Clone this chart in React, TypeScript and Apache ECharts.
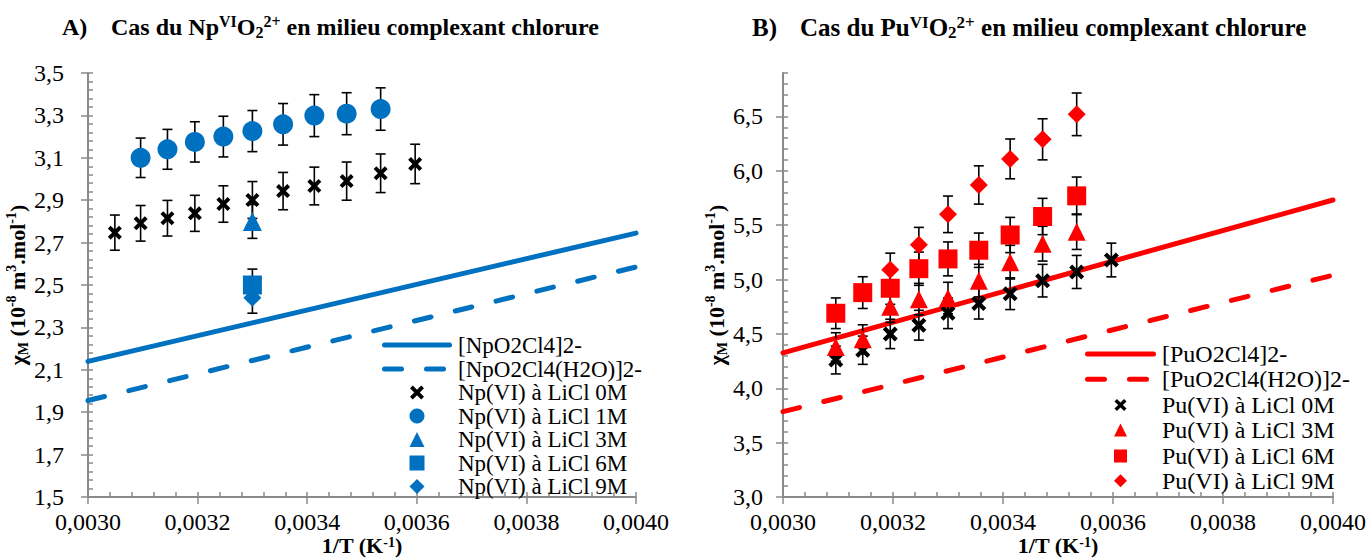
import React, { useEffect, useRef } from 'react';
import * as echarts from 'echarts';

// ---------- tick labels ----------
const xTickValues = [0.003, 0.0032, 0.0034, 0.0036, 0.0038, 0.004];
const npYTickValues = [1.5, 1.7, 1.9, 2.1, 2.3, 2.5, 2.7, 2.9, 3.1, 3.3, 3.5];
const puYTickValues = [3.0, 3.5, 4.0, 4.5, 5.0, 5.5, 6.0, 6.5];

// ---------- A) Np(VI) data ----------
const npLineX = [0.003, 0.004];
const npSolidY = [2.14, 2.745];
const npDashedY = [1.955, 2.585];

const npX0M = [0.003049, 0.003096, 0.003145, 0.003195, 0.003247, 0.0033, 0.003356, 0.003413, 0.003472, 0.003534, 0.003597];
const npY0M = [2.747, 2.791, 2.815, 2.838, 2.882, 2.901, 2.943, 2.967, 2.99, 3.027, 3.071];
const npE0M = [0.083, 0.084, 0.084, 0.085, 0.086, 0.087, 0.088, 0.089, 0.09, 0.091, 0.093];

const npX1M = [0.003096, 0.003145, 0.003195, 0.003247, 0.0033, 0.003356, 0.003413, 0.003472, 0.003534];
const npY1M = [3.1, 3.14, 3.175, 3.2, 3.226, 3.258, 3.299, 3.308, 3.33];
const npE1M = [0.093, 0.094, 0.095, 0.096, 0.097, 0.098, 0.099, 0.099, 0.1];

const npX3M = [0.0033];
const npY3M = [2.8];
const npE3M = [0.08];

const npX6M = [0.0033];
const npY6M = [2.5];
const npE6M = [0.075];

const npX9M = [0.0033];
const npY9M = [2.44];
const npE9M = [0.073];

// ---------- B) Pu(VI) data ----------
const puLineX = [0.003, 0.004];
const puSolidY = [4.326, 5.732];
const puDashedY = [3.785, 5.04];

const puX0M = [0.003096, 0.003145, 0.003195, 0.003247, 0.0033, 0.003356, 0.003413, 0.003472, 0.003534, 0.003597];
const puY0M = [4.26, 4.35, 4.5, 4.58, 4.69, 4.78, 4.87, 4.99, 5.07, 5.18];
const puE0M = [0.128, 0.13, 0.135, 0.137, 0.141, 0.143, 0.146, 0.15, 0.152, 0.155];

const puX3M = [0.003096, 0.003145, 0.003195, 0.003247, 0.0033, 0.003356, 0.003413, 0.003472, 0.003534];
const puY3M = [4.38, 4.45, 4.75, 4.82, 4.83, 4.99, 5.16, 5.33, 5.44];
const puE3M = [0.131, 0.134, 0.143, 0.145, 0.145, 0.15, 0.155, 0.16, 0.163];

const puX6M = [0.003096, 0.003145, 0.003195, 0.003247, 0.0033, 0.003356, 0.003413, 0.003472, 0.003534];
const puY6M = [4.69, 4.88, 4.92, 5.1, 5.19, 5.27, 5.41, 5.58, 5.77];
const puE6M = [0.141, 0.146, 0.148, 0.153, 0.156, 0.158, 0.162, 0.167, 0.173];

const puX9M = [0.003195, 0.003247, 0.0033, 0.003356, 0.003413, 0.003472, 0.003534];
const puY9M = [5.09, 5.32, 5.6, 5.87, 6.11, 6.29, 6.52];
const puE9M = [0.153, 0.16, 0.168, 0.176, 0.183, 0.189, 0.196];

// ---------- legend labels ----------
const npNames = ['[NpO2Cl4]2-', '[NpO2Cl4(H2O)]2-', 'Np(VI) à LiCl 0M', 'Np(VI) à LiCl 1M', 'Np(VI) à LiCl 3M', 'Np(VI) à LiCl 6M', 'Np(VI) à LiCl 9M'];
const puNames = ['[PuO2Cl4]2-', '[PuO2Cl4(H2O)]2-', 'Pu(VI) à LiCl 0M', 'Pu(VI) à LiCl 3M', 'Pu(VI) à LiCl 6M', 'Pu(VI) à LiCl 9M'];

// ---------- styles ----------
const SERIF = '"Liberation Serif", "Times New Roman", serif';
const AXIS_GRAY = '#8a8a8a';
const BLUE = '#0070C0';
const RED = '#FF0000';
const CROSS = 'path://M0,2L2,0L5,3L8,0L10,2L7,5L10,8L8,10L5,7L2,10L0,8L3,5Z';
const CROSS_PTS = [[0, 2], [2, 0], [5, 3], [8, 0], [10, 2], [7, 5], [10, 8], [8, 10], [5, 7], [2, 10], [0, 8], [3, 5]];
const DASH = [17, 25];
const FONT = 24;

const zip = (xs: number[], ys: number[]) => xs.map((x, i) => [x, ys[i]]);
const zip3 = (xs: number[], ys: number[], es: number[]) => xs.map((x, i) => [x, ys[i], es[i]]);

const fmtX = (v: number) => v.toFixed(4).replace('.', ',');
const fmtY = (v: number) => v.toFixed(1).replace('.', ',');

function errorBarRender(params: any, api: any) {
  const x = api.value(0);
  const y = api.value(1);
  const e = api.value(2);
  const top = api.coord([x, y + e]);
  const bot = api.coord([x, y - e]);
  const hw = 5;
  const style = { stroke: '#000', lineWidth: 1.6 };
  return {
    type: 'group',
    children: [
      { type: 'line', shape: { x1: top[0], y1: top[1], x2: bot[0], y2: bot[1] }, style },
      { type: 'line', shape: { x1: top[0] - hw, y1: top[1], x2: top[0] + hw, y2: top[1] }, style },
      { type: 'line', shape: { x1: bot[0] - hw, y1: bot[1], x2: bot[0] + hw, y2: bot[1] }, style },
    ],
  };
}

function makeXAxes(g: number, nameGap: number) {
  const base = { gridIndex: g, type: 'value', min: 0.003, max: 0.004, position: 'bottom', splitLine: { show: false } };
  return [
    {
      ...base,
      interval: 0.00004,
      axisLine: { show: true, onZero: false, lineStyle: { color: AXIS_GRAY, width: 2 } },
      axisTick: { show: true, inside: true, length: 5, lineStyle: { color: AXIS_GRAY, width: 1.5 } },
      axisLabel: { show: false },
    },
    {
      ...base,
      interval: 0.0002,
      axisLine: { show: false, onZero: false },
      axisTick: { show: true, inside: false, length: 7, customValues: xTickValues, lineStyle: { color: AXIS_GRAY, width: 1.5 } },
      axisLabel: {
        show: true,
        customValues: xTickValues,
        formatter: fmtX,
        color: '#000',
        fontFamily: SERIF,
        fontSize: FONT,
        margin: 13,
      },
      name: '{b|1/T (K}{s|-1}{b|)}',
      nameLocation: 'middle',
      nameGap,
      nameMoveOverlap: false,
      nameTextStyle: {
        rich: {
          b: { fontFamily: SERIF, fontWeight: 'bold', fontSize: 22, color: '#000', lineHeight: 21 },
          s: { fontFamily: SERIF, fontWeight: 'bold', fontSize: 14, color: '#000', verticalAlign: 'top', lineHeight: 12 },
        },
      },
    },
  ];
}

function makeYAxes(g: number, min: number, max: number, minorInt: number, majorInt: number, ticks: number[], labelMargin: number, nameGap: number) {
  const base = { gridIndex: g, type: 'value', min, max, position: 'left', splitLine: { show: false } };
  return [
    {
      ...base,
      interval: minorInt,
      axisLine: { show: true, onZero: false, lineStyle: { color: AXIS_GRAY, width: 2 } },
      axisTick: { show: true, inside: true, length: 5, lineStyle: { color: AXIS_GRAY, width: 1.5 } },
      axisLabel: { show: false },
    },
    {
      ...base,
      interval: majorInt,
      axisLine: { show: false, onZero: false },
      axisTick: { show: true, inside: false, length: 7, customValues: ticks, lineStyle: { color: AXIS_GRAY, width: 1.5 } },
      axisLabel: {
        show: true,
        customValues: ticks,
        formatter: (v: number) => (ticks.some((t) => Math.abs(t - v) < 1e-9) ? fmtY(v) : ''),
        color: '#000',
        fontFamily: SERIF,
        fontSize: FONT,
        margin: labelMargin,
      },
      name: '{b|χ}{sub|M}{b| (10}{s|-8}{b| m}{s|3}{b|.mol}{s|-1}{b|)}',
      nameLocation: 'middle',
      nameGap,
      nameRotate: 90,
      nameTextStyle: {
        rich: {
          b: { fontFamily: SERIF, fontWeight: 'bold', fontSize: 22, color: '#000', lineHeight: 26 },
          s: { fontFamily: SERIF, fontWeight: 'bold', fontSize: 14, color: '#000', verticalAlign: 'top', lineHeight: 14 },
          sub: { fontFamily: SERIF, fontWeight: 'bold', fontSize: 14, color: '#000', verticalAlign: 'bottom', lineHeight: 14 },
        },
      },
    },
  ];
}

function lineSeries(name: string, g: number, xs: number[], ys: number[], color: string, dashed: boolean) {
  return {
    name,
    type: 'line',
    xAxisIndex: 2 * g,
    yAxisIndex: 2 * g,
    data: zip(xs, ys),
    symbol: 'none',
    showSymbol: false,
    z: 1,
    lineStyle: { color, width: 5, type: dashed ? DASH : 'solid', cap: 'round' },
    itemStyle: { color },
  };
}

function scatterSeries(name: string, g: number, xs: number[], ys: number[], color: string, symbol: string, size: number) {
  return {
    name,
    type: 'scatter',
    xAxisIndex: 2 * g,
    yAxisIndex: 2 * g,
    data: zip(xs, ys),
    symbol,
    symbolSize: size,
    z: 3,
    itemStyle: { color, opacity: 1 },
  };
}

function errSeries(g: number, xs: number[], ys: number[], es: number[]) {
  return {
    type: 'custom',
    xAxisIndex: 2 * g,
    yAxisIndex: 2 * g,
    data: zip3(xs, ys, es),
    renderItem: errorBarRender,
    encode: { x: 0, y: 1 },
    silent: true,
    z: 2,
  };
}

function titleGraphic(letter: string, elem: string, xLetter: number, xText: number, size: number) {
  const bold = { fontFamily: SERIF, fontWeight: 'bold', fill: '#000' };
  return [
    {
      type: 'text',
      x: xLetter,
      y: 27,
      style: { ...bold, text: letter, fontSize: size, verticalAlign: 'middle' },
    },
    {
      type: 'text',
      x: xText,
      y: 27,
      style: {
        text: `{n|Cas du ${elem}}{sup|VI}{n|O}{sub|2}{sup|2+}{n| en milieu complexant chlorure}`,
        verticalAlign: 'middle',
        rich: {
          n: { ...bold, fontSize: size, lineHeight: 27 },
          sup: { ...bold, fontSize: Math.round(size * 0.66), verticalAlign: 'top', lineHeight: 15 },
          sub: { ...bold, fontSize: Math.round(size * 0.66), verticalAlign: 'bottom', lineHeight: 15 },
        },
      },
    },
  ];
}

// marker graphic for the hand-drawn legends
function legendMarker(kind: string, cx: number, cy: number, s: number, color: string) {
  const h = s / 2;
  const style = { fill: color };
  switch (kind) {
    case 'circle':
      return { type: 'circle', shape: { cx, cy, r: h }, style };
    case 'triangle':
      return { type: 'polygon', shape: { points: [[cx, cy - h], [cx + h, cy + h], [cx - h, cy + h]] }, style };
    case 'rect':
      return { type: 'rect', shape: { x: cx - h, y: cy - h, width: s, height: s }, style };
    case 'diamond':
      return { type: 'polygon', shape: { points: [[cx, cy - h], [cx + h, cy], [cx, cy + h], [cx - h, cy]] }, style };
    default:
      return {
        type: 'polygon',
        shape: { points: CROSS_PTS.map(([px, py]) => [cx - h + (px * s) / 10, cy - h + (py * s) / 10]) },
        style,
      };
  }
}

function legendGraphic(
  names: string[],
  kinds: string[],
  colors: string[],
  x0: number,
  x1: number,
  rows: number[],
  markerSize: number,
  fontSize: number
) {
  const els: any[] = [];
  names.forEach((name, i) => {
    const cy = rows[i];
    const kind = kinds[i];
    if (kind === 'solid' || kind === 'dashed') {
      els.push({
        type: 'line',
        shape: { x1: x0 + 2.5, y1: cy, x2: x1 - 2.5, y2: cy },
        style: { stroke: colors[i], lineWidth: 5, lineCap: 'round', lineDash: kind === 'dashed' ? DASH : null },
        z: 10,
      });
    } else {
      els.push({ ...legendMarker(kind, (x0 + x1) / 2, cy, kind === 'cross' ? markerSize - 1 : markerSize, colors[i]), z: 10 });
    }
    els.push({
      type: 'text',
      x: x1 + 6,
      y: cy,
      z: 10,
      style: { text: name, fontFamily: SERIF, fontSize, fill: '#000', verticalAlign: 'middle' },
    });
  });
  return els;
}

export default function App() {
  const ref = useRef<HTMLDivElement>(null);

  useEffect(() => {
    if (!ref.current) return;
    const chart = echarts.init(ref.current, undefined, { renderer: 'svg' });

    const option: any = {
      animation: false,
      backgroundColor: '#fff',
      grid: [
        { left: 88, top: 73, width: 548, height: 424, containLabel: false, outerBoundsMode: 'none' },
        { left: 783, top: 73, width: 550, height: 424, containLabel: false, outerBoundsMode: 'none' },
      ],
      xAxis: [...makeXAxes(0, 38), ...makeXAxes(1, 38)],
      yAxis: [
        ...makeYAxes(0, 1.5, 3.5, 0.04, 0.2, npYTickValues, 24, 58),
        ...makeYAxes(1, 3.0, 6.9, 0.1, 0.5, puYTickValues, 20, 46),
      ],
      graphic: [
        ...titleGraphic('A)', 'Np', 62, 111, 24),
        ...titleGraphic('B)', 'Pu', 752, 800, 25),
        ...legendGraphic(
          npNames,
          ['solid', 'dashed', 'cross', 'circle', 'triangle', 'rect', 'diamond'],
          [BLUE, BLUE, '#000', BLUE, BLUE, BLUE, BLUE],
          382,
          452,
          [345, 369, 392.5, 416, 439.5, 463, 486.5],
          15,
          23
        ),
        ...legendGraphic(
          puNames,
          ['solid', 'dashed', 'cross', 'triangle', 'rect', 'diamond'],
          [RED, RED, '#000', RED, RED, RED],
          1085,
          1156,
          [354, 379.3, 405, 430, 456, 480.7],
          13,
          24
        ),
      ],
      series: [
        lineSeries(npNames[0], 0, npLineX, npSolidY, BLUE, false),
        lineSeries(npNames[1], 0, npLineX, npDashedY, BLUE, true),
        errSeries(0, npX0M, npY0M, npE0M),
        errSeries(0, npX1M, npY1M, npE1M),
        errSeries(0, npX3M, npY3M, npE3M),
        errSeries(0, npX6M, npY6M, npE6M),
        errSeries(0, npX9M, npY9M, npE9M),
        scatterSeries(npNames[2], 0, npX0M, npY0M, '#000', CROSS, 14),
        scatterSeries(npNames[3], 0, npX1M, npY1M, BLUE, 'circle', 20),
        scatterSeries(npNames[4], 0, npX3M, npY3M, BLUE, 'triangle', 19),
        scatterSeries(npNames[5], 0, npX6M, npY6M, BLUE, 'rect', 19),
        scatterSeries(npNames[6], 0, npX9M, npY9M, BLUE, 'diamond', 18),

        lineSeries(puNames[0], 1, puLineX, puSolidY, RED, false),
        lineSeries(puNames[1], 1, puLineX, puDashedY, RED, true),
        errSeries(1, puX0M, puY0M, puE0M),
        errSeries(1, puX3M, puY3M, puE3M),
        errSeries(1, puX6M, puY6M, puE6M),
        errSeries(1, puX9M, puY9M, puE9M),
        scatterSeries(puNames[2], 1, puX0M, puY0M, '#000', CROSS, 15),
        scatterSeries(puNames[3], 1, puX3M, puY3M, RED, 'triangle', 18),
        scatterSeries(puNames[4], 1, puX6M, puY6M, RED, 'rect', 19),
        scatterSeries(puNames[5], 1, puX9M, puY9M, RED, 'diamond', 18),
      ],
    };

    chart.setOption(option);
    return () => {
      chart.dispose();
    };
  }, []);

  return (
    <div
      ref={ref}
      style={{ position: 'fixed', left: 0, top: 0, width: 1372, height: 560, background: '#fff' }}
    />
  );
}
